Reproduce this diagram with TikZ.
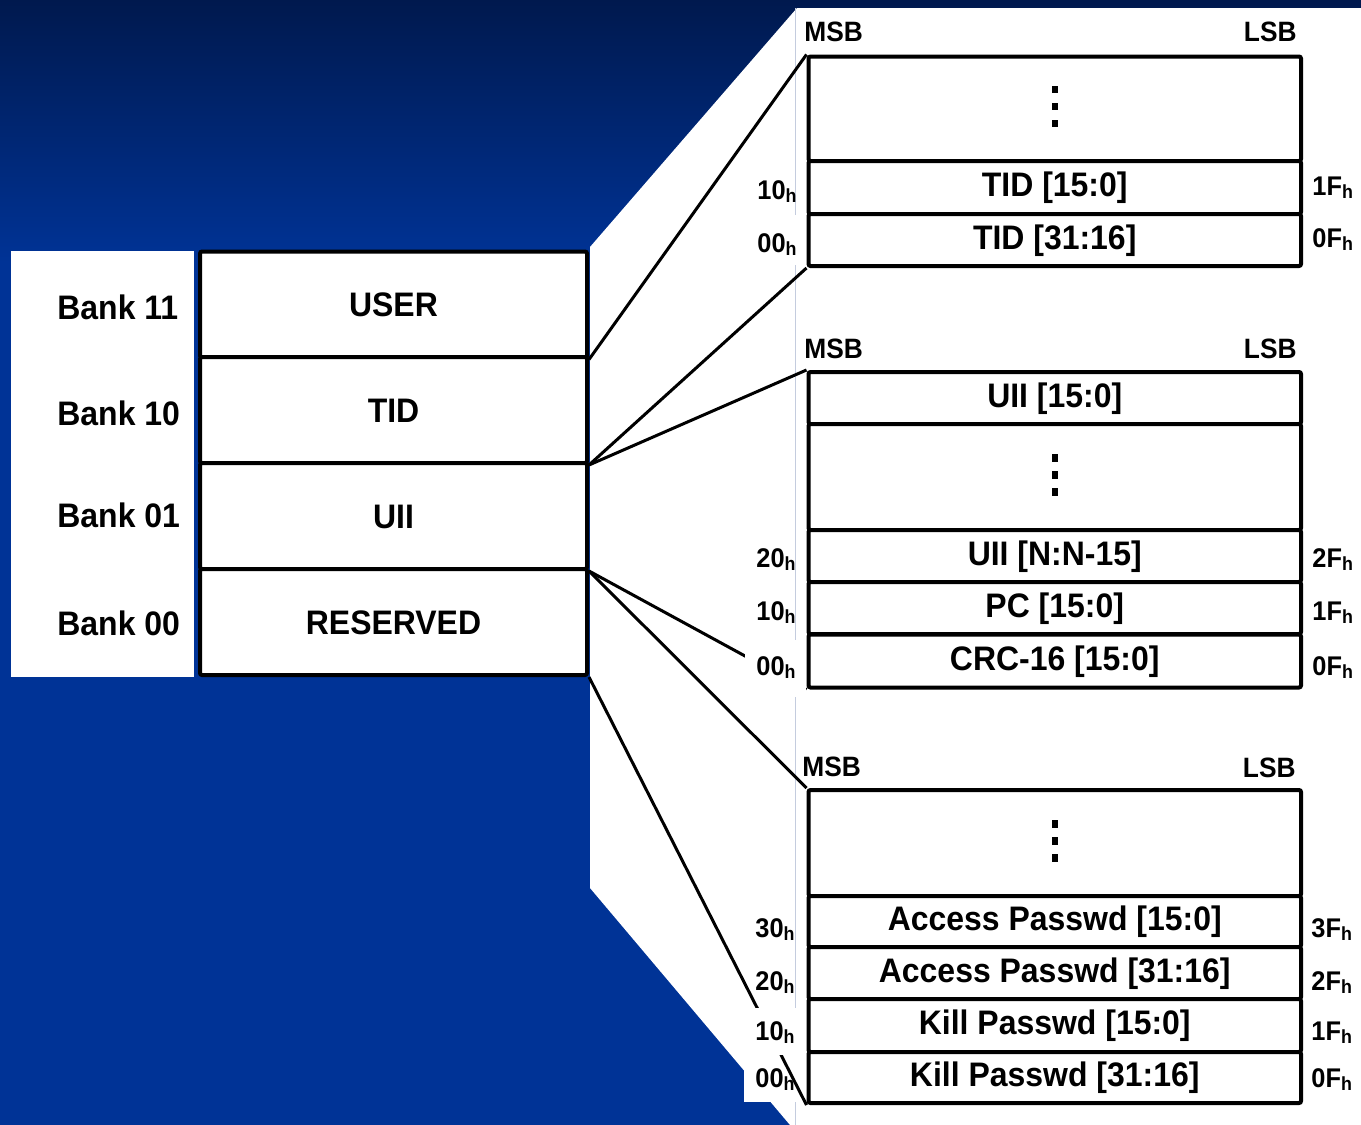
\documentclass[tikz,border=0pt]{standalone}
\usepackage{fontspec}
\setmainfont{Liberation Sans}[FakeStretch=0.94]
\newcommand\hsub{\raisebox{-1.5pt}{\fontsize{9.5}{10}\selectfont h}}
\definecolor{bgtop}{RGB}{0,25,78}
\definecolor{bgbot}{RGB}{0,51,150}
\definecolor{rulegray}{RGB}{196,204,222}
\tikzset{
  bankrow/.style={draw, line width=2pt, fill=white, rounded corners=1pt,
    minimum width=193.5pt, minimum height=53pt, inner sep=0pt,
    font=\fontsize{17}{20}\selectfont\bfseries, text height=12pt, text depth=0pt},
  cell/.style={draw, line width=2pt, fill=white, rounded corners=1pt,
    minimum width=246.25pt, inner sep=0pt,
    font=\fontsize{17}{20}\selectfont\bfseries, text height=12pt, text depth=3pt},
  conn/.style={line width=1.5pt},
  addrL/.style={font=\fontsize{13.5}{15}\selectfont\bfseries, inner sep=0pt, anchor=base east},
  addrR/.style={font=\fontsize{13.5}{15}\selectfont\bfseries, inner sep=0pt, anchor=base west},
  msb/.style={font=\fontsize{14}{16}\selectfont\bfseries, inner sep=0pt, anchor=base west},
  lsb/.style={font=\fontsize{14}{16}\selectfont\bfseries, inner sep=0pt, anchor=base east},
  banklbl/.style={font=\fontsize{17}{20}\selectfont\bfseries, inner sep=0pt, anchor=base west},
}
\begin{document}
\begin{tikzpicture}[x=0.5pt,y=-0.5pt]
\useasboundingbox (0,0) rectangle (1361,1125);
% background
\shade[top color=bgtop,bottom color=bgbot] (0,0) rectangle (1361,262);
\fill[bgbot] (0,261) rectangle (1361,1125);
\fill[white] (590,247) -- (797,8) -- (1361,8) -- (1361,1125) -- (790,1125) -- (590,888) -- cycle;
\fill[white] (11,251) rectangle (194,677);
\draw[rulegray, line width=0.6pt] (795.5,8) -- (795.5,1125);
\fill[white] (744,1055) rectangle (806,1102);

% bank box
\node[bankrow] (user) at (393.5,304.5) {USER};
\node[bankrow] (tid)  at (393.5,410) {TID};
\node[bankrow] (uii)  at (393.5,516) {UII};
\node[bankrow] (res)  at (393.5,622) {RESERVED};

% panel 1
\node[cell, minimum height=52.25pt] (p1a) at (1054.75,108.75) {};
\node[cell, minimum height=26.5pt]  (p1b) at (1054.75,187.5) {TID [15:0]};
\node[cell, minimum height=26pt]    (p1c) at (1054.75,240) {TID [31:16]};
% panel 2
\node[cell, minimum height=26pt]    (p2a) at (1054.75,398) {UII [15:0]};
\node[cell, minimum height=53pt]    (p2b) at (1054.75,477) {};
\node[cell, minimum height=26pt]    (p2c) at (1054.75,556) {UII [N:N-15]};
\node[cell, minimum height=26pt]    (p2d) at (1054.75,608) {PC [15:0]};
\node[cell, minimum height=26.5pt]  (p2e) at (1054.75,661) {CRC-16 [15:0]};
% panel 3
\node[cell, minimum height=53pt]    (p3a) at (1054.75,843) {};
\node[cell, minimum height=25.5pt]  (p3b) at (1054.75,921.5) {Access Passwd [15:0]};
\node[cell, minimum height=26pt]    (p3c) at (1054.75,973) {Access Passwd [31:16]};
\node[cell, minimum height=26.5pt]  (p3d) at (1054.75,1025.5) {Kill Passwd [15:0]};
\node[cell, minimum height=25.5pt]  (p3e) at (1054.75,1077.5) {Kill Passwd [31:16]};

% connectors
\draw[conn] (user.south east) -- (p1a.north west);
\draw[conn] (tid.south east) -- (p1c.south west);
\draw[conn] (tid.south east) -- (p2a.north west);
\draw[conn] (uii.south east) -- (p2e.south west);
\draw[conn] (uii.south east) -- (p3a.north west);
\draw[conn] (res.south east) -- (p3e.south west);

% label backgrounds hiding connector parts
\fill[white] (745,215) rectangle (805.5,265);
\fill[white] (745,640) rectangle (805.5,697);
\fill[white] (744,1008) rectangle (805.5,1055);
\draw[rulegray, line width=0.6pt] (795.5,1102) -- (795.5,1125);

% vertical dots
\foreach \p in {p1a,p2b,p3a}
  \foreach \dy in {-23,-6,11}
    \fill ([shift={(-3,\dy)}]\p.center) rectangle ++(6,7.5);

% bank labels
\node[banklbl] (b11) at (57,319) {Bank 11};
\node[banklbl] (b10) at (57,425) {Bank 10};
\node[banklbl] (b01) at (57,527) {Bank 01};
\node[banklbl] (b00) at (57,635) {Bank 00};

% MSB / LSB
\node[msb] (m1) at (804,41) {MSB};
\node[lsb] (l1) at (1297,41) {LSB};
\node[msb] (m2) at (804,358) {MSB};
\node[lsb] (l2) at (1297,358) {LSB};
\node[msb] (m3) at (802,776) {MSB};
\node[lsb] (l3) at (1296,777) {LSB};

% addresses, panel 1
\node[addrL] (a110) at (797,199) {10\hsub};
\node[addrL] (a100) at (797,252) {00\hsub};
\node[addrR] (a11f) at (1312,195) {1F\hsub};
\node[addrR] (a10f) at (1312,247) {0F\hsub};
% panel 2
\node[addrL] (a220) at (796,567) {20\hsub};
\node[addrL] (a210) at (796,620) {10\hsub};
\node[addrL] (a200) at (796,675) {00\hsub};
\node[addrR] (a22f) at (1312,567) {2F\hsub};
\node[addrR] (a21f) at (1312,620) {1F\hsub};
\node[addrR] (a20f) at (1312,675) {0F\hsub};
% panel 3
\node[addrL] (a330) at (795,937) {30\hsub};
\node[addrL] (a320) at (795,990) {20\hsub};
\node[addrL] (a310) at (795,1040) {10\hsub};
\node[addrL] (a300) at (795,1087) {00\hsub};
\node[addrR] (a33f) at (1311,937) {3F\hsub};
\node[addrR] (a32f) at (1311,990) {2F\hsub};
\node[addrR] (a31f) at (1311,1040) {1F\hsub};
\node[addrR] (a30f) at (1311,1087) {0F\hsub};
\end{tikzpicture}
\end{document}
